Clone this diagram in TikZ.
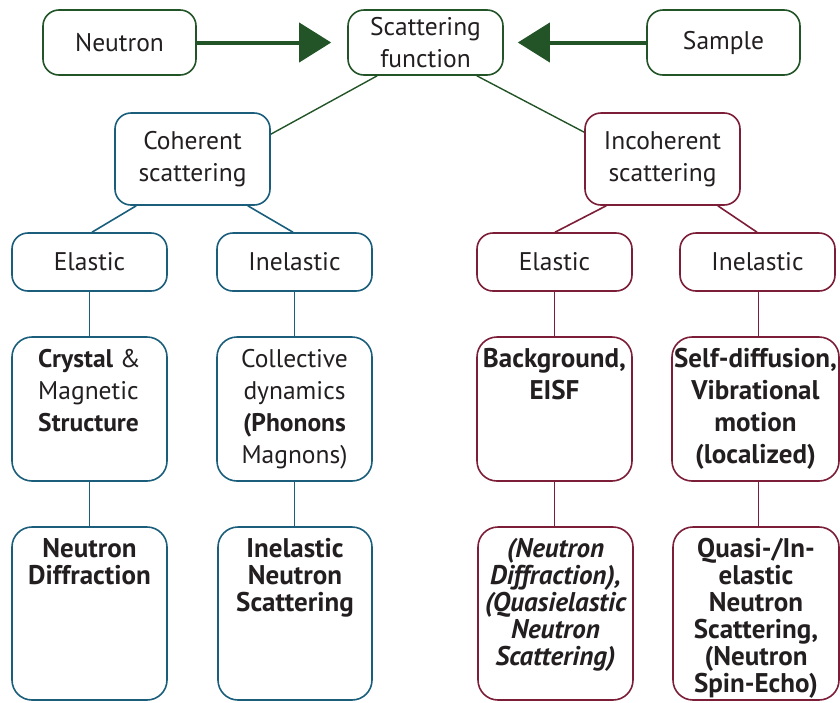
\documentclass[tikz,border=0pt]{standalone}
\usepackage{fontspec}
\setmainfont{PT Sans}
\usetikzlibrary{arrows.meta}
\definecolor{grn}{RGB}{34,84,40}
\definecolor{blu}{RGB}{26,94,124}
\definecolor{mar}{RGB}{124,30,56}
\definecolor{ink}{RGB}{35,31,32}
\newcommand\fst{\rule{0pt}{19pt}}
\begin{document}
\begin{tikzpicture}[x=1pt,y=-1pt,
  box/.style={draw, line width=1.6pt, rounded corners=16pt, inner sep=0pt, fill=white,
    text=ink, align=center, font=\fontsize{25.5}{32}\selectfont},
  gbox/.style={box, draw=grn},
  bbox/.style={box, draw=blu},
  mbox/.style={box, draw=mar},
  big/.style={rounded corners=20pt},
  txt/.style={inner sep=0pt, text=ink, align=center, anchor=north},
  txtA/.style={txt, font=\fontsize{25.5}{32}\selectfont},
  txtB/.style={txt, font=\fontsize{27}{27}\selectfont\bfseries},
  gline/.style={draw=grn, line width=1.4pt},
  bline/.style={draw=blu, line width=1.6pt},
  mline/.style={draw=mar, line width=1.6pt},
  garrow/.style={draw=grn, line width=4pt, -{Triangle[length=32pt,width=39pt]}}
]
\useasboundingbox (0,0) rectangle (840,702);
% top row
\node[gbox, minimum width=153pt, minimum height=65pt] (neutron) at (119.5,42.5) {Neutron};
\node[gbox, minimum width=155pt, minimum height=65pt] (scat) at (425.5,42.5) {Scattering\\function};
\node[gbox, minimum width=153pt, minimum height=65pt] (sample) at (723.5,42.5) {Sample};
\draw[garrow] (neutron.east) -- ([xshift=-16pt]scat.west);
\draw[garrow] (sample.west) -- ([xshift=14pt]scat.east);
% second row
\node[bbox, minimum width=155pt, minimum height=92pt] (coh) at (192.5,159) {Coherent\\scattering};
\node[mbox, minimum width=155pt, minimum height=92pt] (inc) at (662.5,159) {Incoherent\\scattering};
\draw[gline] ([xshift=30pt]scat.south west) -- ([yshift=-22pt]coh.north east);
\draw[gline] ([xshift=-27pt]scat.south east) -- ([yshift=-20pt]inc.north west);
% third row
\node[bbox, minimum width=155pt, minimum height=58pt] (ce) at (89.5,262) {Elastic};
\node[bbox, minimum width=155pt, minimum height=58pt] (ci) at (294.5,262) {Inelastic};
\node[mbox, minimum width=155pt, minimum height=58pt] (ie) at (554.5,262) {Elastic};
\node[mbox, minimum width=155pt, minimum height=58pt] (ii) at (757.5,262) {Inelastic};
\draw[bline] ([xshift=22pt]coh.south west) -- ([xshift=2.5pt]ce.north);
\draw[bline] ([xshift=-23pt]coh.south east) -- ([xshift=-1.5pt]ci.north);
\draw[mline] ([xshift=22pt]inc.south west) -- ([xshift=0.5pt]ie.north);
\draw[mline] ([xshift=-23pt]inc.south east) -- ([xshift=-0.5pt]ii.north);
% fourth row boxes
\node[bbox, big, minimum width=155pt, minimum height=144pt] (ca) at (89.5,409) {};
\node[bbox, big, minimum width=155pt, minimum height=144pt] (cb) at (294.5,409) {};
\node[mbox, big, minimum width=155pt, minimum height=144pt] (ia) at (554.5,409) {};
\node[mbox, big, minimum width=167pt, minimum height=144pt] (ib) at (755.5,409) {};
\draw[bline] (ce.south) -- (ce.south |- ca.north);
\draw[bline] (ci.south) -- (ci.south |- cb.north);
\draw[mline] (ie.south) -- (ie.south |- ia.north);
\draw[mline] ([xshift=1pt]ii.south) -- ([xshift=1pt]ii.south |- ib.north);
\node[txtA, align=left] (tca) at ([yshift=-12pt]ca.north) {\fst\textbf{Crystal} \&\\Magnetic\\\textbf{Structure}};
\node[txtA] (tcb) at ([yshift=-12pt]cb.north) {\fst Collective\\dynamics\\\textbf{(Phonons}\\Magnons)};
\node[txtB, font=\fontsize{27}{32}\selectfont\bfseries] (tia) at ([yshift=-12pt]ia.north) {\fst Background,\\EISF};
\node[txtB, font=\fontsize{27}{32}\selectfont\bfseries] (tib) at ([yshift=-12pt]ib.north) {\fst Self-diffusion,\\Vibrational\\motion\\(localized)};
% fifth row boxes
\node[bbox, big, minimum width=155pt, minimum height=173pt] (na) at (89.5,613.5) {};
\node[bbox, big, minimum width=154pt, minimum height=173pt] (nb) at (295,613.5) {};
\node[mbox, big, minimum width=155pt, minimum height=173pt] (ma) at (555.5,613.5) {};
\node[mbox, big, minimum width=166pt, minimum height=173pt] (mb) at (756,613.5) {};
\draw[bline] (ca.south) -- (ca.south |- na.north);
\draw[bline] (cb.south) -- (cb.south |- nb.north);
\draw[mline] (ia.south) -- (ia.south |- ma.north);
\draw[mline] ([xshift=3pt]ib.south) -- ([xshift=3pt]ib.south |- mb.north);
\node[txtB] (tna) at ([yshift=-12pt]na.north) {\fst Neutron\\Diffraction};
\node[txtB] (tnb) at ([yshift=-12pt]nb.north) {\fst Inelastic\\Neutron\\Scattering};
\node[txtB, font=\fontsize{27}{27}\selectfont\bfseries\itshape] (tma) at ([yshift=-12pt]ma.north) {\fst(Neutron\\Diffraction),\\(Quasielastic\\Neutron\\Scattering)};
\node[txtB] (tmb) at ([yshift=-12pt]mb.north) {\fst Quasi-/In-\\elastic\\Neutron\\Scattering,\\(Neutron\\Spin-Echo)};
\end{tikzpicture}
\end{document}
